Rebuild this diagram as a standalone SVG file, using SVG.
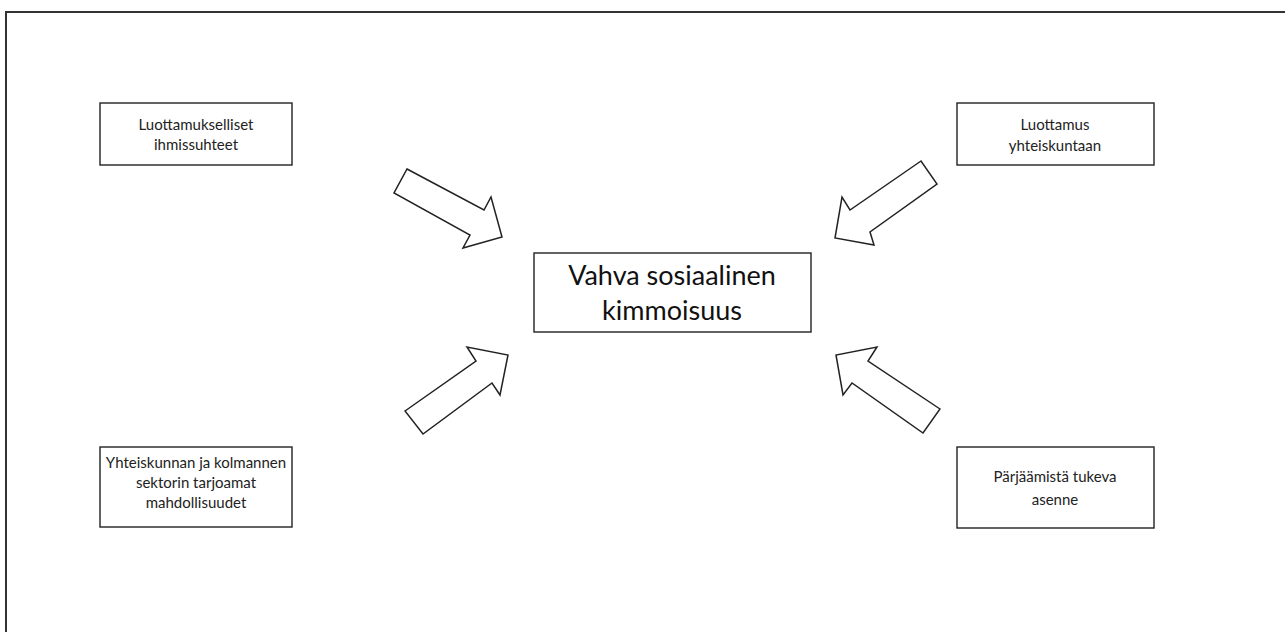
<svg xmlns="http://www.w3.org/2000/svg" width="1285" height="632" viewBox="0 0 1285 632">
<style>
.box{fill:#fff;stroke:#222;stroke-width:1.4}
.t{font-family:Lato,"Open Sans","Liberation Sans",sans-serif;font-size:15px;fill:#222;text-anchor:middle}
.tc{font-family:Lato,"Open Sans","Liberation Sans",sans-serif;font-size:27px;fill:#111;text-anchor:middle}
.arr{fill:#fff;stroke:#222;stroke-width:1.5;stroke-linejoin:miter}
</style>
<rect x="0" y="0" width="1285" height="632" fill="#fff"/>
<rect x="6" y="12" width="1300" height="700" fill="none" stroke="#333" stroke-width="2"/>
<g id="connectors">
<polygon class="arr" points="407,169 484,210 491,197 502,237 463,248 470,235 394,193"/>
<polygon class="arr" points="921,161 850,210 842,197 835,238 874,245 870,232 937,184"/>
<polygon class="arr" points="405,411 476,361 467,347 508,355 500,395 492,383 423,434"/>
<polygon class="arr" points="940,409 868,361 877,347 836,355 843,395 852,383 923,433"/>
</g>
<g id="center">
<rect class="box" x="534" y="253" width="277" height="79"/>
<text class="tc" x="672" y="285">Vahva sosiaalinen</text>
<text class="tc" x="672" y="320">kimmoisuus</text>
</g>
<g id="n1">
<rect class="box" x="100" y="103" width="192" height="62"/>
<text class="t" x="196" y="130">Luottamukselliset</text>
<text class="t" x="196" y="150">ihmissuhteet</text>
</g>
<g id="n2">
<rect class="box" x="957" y="103" width="197" height="62"/>
<text class="t" x="1055" y="130">Luottamus</text>
<text class="t" x="1055" y="151">yhteiskuntaan</text>
</g>
<g id="n3">
<rect class="box" x="100" y="447" width="192" height="80"/>
<text class="t" x="196" y="468">Yhteiskunnan ja kolmannen</text>
<text class="t" x="196" y="488">sektorin tarjoamat</text>
<text class="t" x="196" y="508">mahdollisuudet</text>
</g>
<g id="n4">
<rect class="box" x="957" y="447" width="197" height="81"/>
<text class="t" x="1055" y="482">Pärjäämistä tukeva</text>
<text class="t" x="1055" y="505">asenne</text>
</g>
</svg>
